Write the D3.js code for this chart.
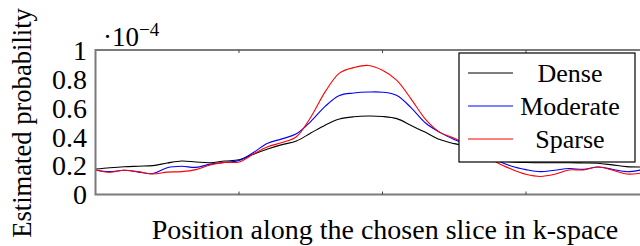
<!DOCTYPE html>
<html><head><meta charset="utf-8">
<script src="https://cdn.jsdelivr.net/npm/d3@7"></script>
<style>
html,body{margin:0;padding:0;background:#fff;overflow:hidden;}
text{font-family:"Liberation Serif","Times New Roman",serif;fill:#000;}
</style></head>
<body>
<svg id="c" width="640" height="246"></svg>
<script>
const positions = [0.0,0.1,0.2,0.3,0.4,0.5,0.6,0.7,0.8,0.9,1.0,1.1,1.2,1.3,1.4,1.5,1.6,1.7,1.8,1.9,2.0,2.1,2.2,2.3,2.4,2.5,2.6,2.7,2.8,2.9,3.0,3.1,3.2,3.3,3.4,3.5,3.6,3.7,3.8];
const dense = [0.176,0.185,0.192,0.196,0.200,0.218,0.232,0.225,0.220,0.232,0.240,0.278,0.315,0.345,0.370,0.425,0.480,0.522,0.538,0.543,0.540,0.525,0.477,0.430,0.380,0.352,0.330,0.290,0.240,0.225,0.222,0.220,0.220,0.220,0.218,0.216,0.205,0.193,0.190];
const moderate = [0.170,0.158,0.168,0.155,0.145,0.185,0.195,0.188,0.210,0.222,0.235,0.290,0.355,0.385,0.420,0.505,0.610,0.685,0.702,0.709,0.708,0.685,0.600,0.495,0.430,0.380,0.340,0.290,0.235,0.195,0.172,0.158,0.168,0.180,0.174,0.190,0.175,0.158,0.170];
const sparse = [0.170,0.154,0.168,0.158,0.142,0.155,0.158,0.172,0.205,0.222,0.225,0.280,0.330,0.360,0.400,0.535,0.710,0.840,0.878,0.893,0.860,0.790,0.660,0.520,0.430,0.390,0.340,0.290,0.220,0.175,0.140,0.125,0.140,0.170,0.170,0.190,0.170,0.142,0.148];
const seriesNames = ["Dense","Moderate","Sparse"];
const seriesColors = ["#000000","#0000ff","#ff0000"];
const yTicks = [0,0.2,0.4,0.6,0.8,1];
const yTickLabels = ["0","0.2","0.4","0.6","0.8","1"];
const xTicks = [1,2,3];

const svg = d3.select("#c");
const L = 95.5, T = 50, B = 194.5;
const x = d3.scaleLinear().domain([0,4]).range([L, L + 4*143.5]);
const y = d3.scaleLinear().domain([0,1]).range([B, T]);
const R = x(4);

// lines
const allSeries = [dense, moderate, sparse];
const line = d3.line().x((d,i)=>x(positions[i])).y(d=>y(d)).curve(d3.curveCatmullRom.alpha(0.5));
allSeries.forEach((s,k)=>{
  svg.append("path").datum(s).attr("d",line).attr("fill","none")
    .attr("stroke",seriesColors[k]).attr("stroke-width",1.1);
});

// frame
svg.append("rect").attr("x",L).attr("y",T).attr("width",R-L).attr("height",B-T)
  .attr("fill","none").attr("stroke","#7a7a7a").attr("stroke-width",2);
// x ticks (bottom and top, inward)
xTicks.forEach(t=>{
  svg.append("line").attr("x1",x(t)).attr("x2",x(t)).attr("y1",B).attr("y2",B-3).attr("stroke","#444").attr("stroke-width",1);
  svg.append("line").attr("x1",x(t)).attr("x2",x(t)).attr("y1",T).attr("y2",T+3).attr("stroke","#444").attr("stroke-width",1);
});

// y tick labels
yTicks.forEach((t,i)=>{
  svg.append("text").attr("x",87).attr("y",y(t)).attr("dy","0.35em")
    .attr("text-anchor","end").attr("font-size",28).text(yTickLabels[i]);
});
// scale multiplier
const m = svg.append("text").attr("x",103).attr("y",46).attr("font-size",27);
m.append("tspan").text("\u00b710");
m.append("tspan").attr("font-size",19).attr("dy",-10).text("\u22124");

// axis labels
svg.append("text").attr("x",385).attr("y",239).attr("text-anchor","middle")
  .attr("font-size",28).text("Position along the chosen slice in k-space");
svg.append("text").attr("transform","translate(31,123) rotate(-90)").attr("text-anchor","middle")
  .attr("font-size",26.6).text("Estimated probability");

// legend
const lg = svg.append("g");
lg.append("rect").attr("x",459).attr("y",53).attr("width",176).attr("height",109)
  .attr("fill","#fff").attr("stroke","#000").attr("stroke-width",1.2);
seriesNames.forEach((n,i)=>{
  const cy = 73 + i*33;
  lg.append("line").attr("x1",468).attr("x2",513).attr("y1",cy).attr("y2",cy)
    .attr("stroke",seriesColors[i]).attr("stroke-width",1.1);
  lg.append("text").attr("x",570).attr("y",cy).attr("dy","0.35em").attr("text-anchor","middle")
    .attr("font-size",26).text(n);
});
</script>
</body></html>
